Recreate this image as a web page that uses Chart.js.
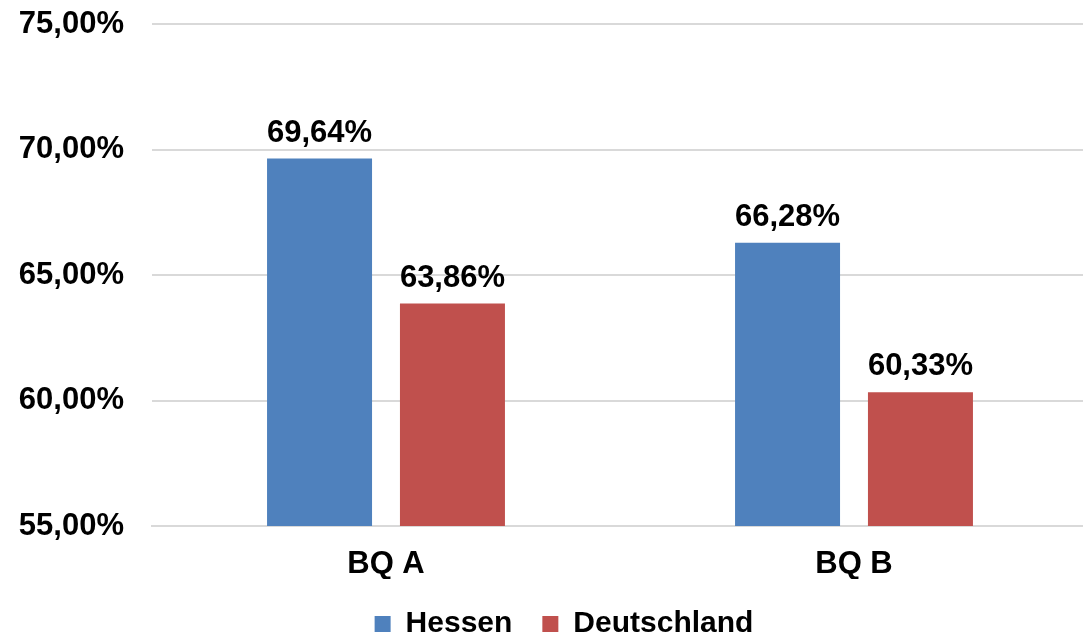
<!DOCTYPE html>
<html>
<head>
<meta charset="utf-8">
<script src="https://cdn.jsdelivr.net/npm/chart.js@4/dist/chart.umd.min.js"></script>
<style>
  html, body { margin: 0; padding: 0; background: #fff; overflow: hidden; }
  #wrap { width: 1088px; height: 634px; }
</style>
</head>
<body>
<div id="wrap"><canvas id="chart"></canvas></div>
<script>
// data
const categories = ['BQ A', 'BQ B'];
const hessen = [69.64, 66.28];
const deutschland = [63.86, 60.33];
const seriesNames = ['Hessen', 'Deutschland'];
const yMin = 55, yMax = 75, yStep = 5;

const FONT = '"Liberation Sans", Arial, sans-serif';

const fmt = (v) => v.toFixed(2).replace('.', ',') + '%';

// draws the value above each bar
const valueLabels = {
  id: 'valueLabels',
  afterDatasetsDraw(chart) {
    const ctx = chart.ctx;
    ctx.save();
    ctx.font = 'bold 31px ' + FONT;
    ctx.fillStyle = '#000';
    ctx.textAlign = 'center';
    ctx.textBaseline = 'alphabetic';
    chart.data.datasets.forEach((ds, i) => {
      chart.getDatasetMeta(i).data.forEach((bar, j) => {
        ctx.fillText(fmt(ds.data[j]), bar.x, bar.y - 17);
      });
    });
    ctx.restore();
  }
};

// nudge the legend a bit right, like in the original
const legendShift = {
  id: 'legendShift',
  afterLayout(chart) {
    const lg = chart.legend;
    lg.left += 20;
    lg.right += 20;
  }
};

const ctx = document.getElementById('chart').getContext('2d');
new Chart(ctx, {
  type: 'bar',
  data: {
    labels: categories,
    datasets: [
      {
        label: seriesNames[0],
        data: hessen,
        backgroundColor: '#4F81BD',
        categoryPercentage: 0.568,
        barPercentage: 0.79,
      },
      {
        label: seriesNames[1],
        data: deutschland,
        backgroundColor: '#C0504D',
        categoryPercentage: 0.568,
        barPercentage: 0.79,
      },
    ],
  },
  options: {
    responsive: true,
    maintainAspectRatio: false,
    animation: false,
    layout: { padding: { left: 0, right: 0, top: 24, bottom: -15 } },
    plugins: {
      legend: {
        position: 'bottom',
        labels: {
          font: { family: FONT, size: 30, weight: 'bold' },
          color: '#000',
          boxWidth: 16,
          boxHeight: 16,
          padding: 30,
        },
      },
      tooltip: { enabled: false },
    },
    scales: {
      x: {
        afterFit: (axis) => { axis.height = 53; },
        grid: { display: false, drawTicks: false },
        border: { color: '#d9d9d9', width: 2 },
        ticks: {
          font: { family: FONT, size: 31, weight: 'bold' },
          color: '#000',
          padding: 20,
        },
      },
      y: {
        min: yMin,
        max: yMax,
        afterFit: (axis) => {
          axis.width = 152;
          axis.paddingTop = 0;
          axis.paddingBottom = 0;
        },
        grid: { color: '#d9d9d9', lineWidth: 2, drawTicks: false },
        border: { display: false },
        ticks: {
          stepSize: yStep,
          font: { family: FONT, size: 31, weight: 'bold' },
          color: '#000',
          padding: 28,
          callback: (v) => fmt(v),
        },
      },
    },
  },
  plugins: [valueLabels, legendShift],
});
</script>
</body>
</html>
